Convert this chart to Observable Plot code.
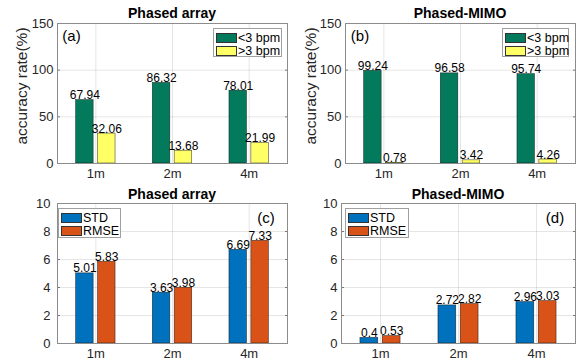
<!DOCTYPE html>
<html><head><meta charset="utf-8">
<script src="https://cdn.jsdelivr.net/npm/d3@7"></script>
<script src="https://cdn.jsdelivr.net/npm/@observablehq/plot@0.6"></script>
<style>
body{margin:0;background:#fff;}
#wrap{position:relative;width:582px;height:360px;font-family:"Liberation Sans",Arial,sans-serif;color:#262626;overflow:hidden;}
.panel{position:absolute;}
.t{position:absolute;white-space:nowrap;line-height:1;}
.title{font-weight:bold;font-size:14px;transform:translate(-50%,-50%);color:#000;}
.letter{font-size:15px;transform:translate(-50%,-50%);color:#000;}
.ylab{font-size:15.5px;transform:translate(-50%,-50%) rotate(-90deg);}
.legend{position:absolute;background:#fff;border:1px solid #a0a0a0;box-sizing:border-box;}
.row{position:absolute;left:2px;display:flex;align-items:center;font-size:12.5px;color:#000;height:12px;white-space:nowrap;width:max-content;}
.sw{width:21px;height:10px;border:1px solid #333;box-sizing:border-box;margin-right:1px;flex:none;}
</style></head><body><div id="wrap"></div><script>
// ---- data ----
const distances = ["1m", "2m", "4m"];
const accSeries = ["<3 bpm", ">3 bpm"];
const phasedAcc = [[67.94, 86.32, 78.01], [32.06, 13.68, 21.99]];
const mimoAcc = [[99.24, 96.58, 95.74], [0.78, 3.42, 4.26]];
const errSeries = ["STD", "RMSE"];
const phasedErr = [[5.01, 3.63, 6.69], [5.83, 3.98, 7.33]];
const mimoErr = [[0.4, 2.72, 2.96], [0.53, 2.82, 3.03]];
const accTicks = [0, 50, 100, 150];
const errTicks = [0, 2, 4, 6, 8, 10];
const titles = ["Phased array", "Phased-MIMO", "Phased array", "Phased-MIMO"];
const letters = ["(a)", "(b)", "(c)", "(d)"];
const accColors = ["#047a5d", "#ffff66"];
const errColors = ["#0072bd", "#d95319"];

const wrap = document.getElementById("wrap");
function addText(cls, txt, x, y) {
  const d = document.createElement("div");
  d.className = "t " + cls; d.textContent = txt;
  d.style.left = x + "px"; d.style.top = y + "px";
  wrap.appendChild(d);
}
function addLegend(series, colors, x, y, w, h, rowTop, rowStep) {
  const L = document.createElement("div");
  L.className = "legend";
  Object.assign(L.style, {left: x + "px", top: y + "px", width: w + "px", height: h + "px"});
  series.forEach((s, i) => {
    const r = document.createElement("div");
    r.className = "row"; r.style.top = (rowTop + i * rowStep) + "px";
    const sw = document.createElement("div"); sw.className = "sw"; sw.style.background = colors[i];
    const tx = document.createElement("span"); tx.textContent = s;
    r.appendChild(sw); r.appendChild(tx); L.appendChild(r);
  });
  wrap.appendChild(L);
}

// MATLAB grouped bar geometry (2 series)
const nS = 2;
const groupW = Math.min(0.8, nS / (nS + 1.5));
const slot = groupW / nS;
const barW = 0.8 * slot;

function panel(cfg) {
  const rows = [];
  cfg.series.forEach((s, si) => cfg.values[si].forEach((v, ci) => {
    const xc = ci + 1 - groupW / 2 + slot * (si + 0.5);
    rows.push({s, si, v, xc, x1: xc - barW / 2, x2: xc + barW / 2, label: String(v)});
  }));
  const p = Plot.plot({
    width: cfg.w, height: cfg.h,
    marginLeft: cfg.ml, marginRight: cfg.mr, marginTop: cfg.mt, marginBottom: cfg.mb,
    style: {fontFamily: '"Liberation Sans", Arial, sans-serif', fontSize: "13px", color: "#262626", background: "transparent", overflow: "visible"},
    x: {type: "linear", domain: [0.5, 3.5]},
    y: {domain: [0, cfg.yMax]},
    color: {domain: cfg.series, range: cfg.colors},
    marks: [
      Plot.gridY(cfg.ticks, {stroke: "#000", strokeOpacity: 0.1}),
      Plot.gridX([1, 2, 3], {stroke: "#000", strokeOpacity: 0.1}),
      Plot.rectY(rows, {x1: "x1", x2: "x2", y1: 0, y2: "v", fill: d => d.s, stroke: "#000", strokeWidth: 0.6, strokeOpacity: 0.7}),
      Plot.text(rows, {x: "xc", y: "v", text: "label", lineAnchor: "bottom", dy: -1, fontSize: 12, fill: "#000"}),
      Plot.axisY(cfg.ticks, {tickSize: 0, tickPadding: cfg.tickPad, fontSize: 13, label: null}),
      Plot.axisX([1, 2, 3], {tickSize: 0, tickPadding: 5, fontSize: 13, label: null, tickFormat: d => distances[d - 1]}),
      Plot.axisY(cfg.ticks, {anchor: "left", tickSize: -3, text: null, label: null, stroke: "#777"}),
      Plot.axisY(cfg.ticks, {anchor: "right", tickSize: -3, text: null, label: null, stroke: "#777"}),
      Plot.frame({stroke: "#8c8c8c"})
    ]
  });
  p.classList.add("panel");
  p.style.left = cfg.left + "px"; p.style.top = cfg.top + "px";
  wrap.appendChild(p);
}

panel({left: 0, top: 0, w: 291, h: 180, ml: 57, mr: 4, mt: 23, mb: 17, series: accSeries, values: phasedAcc, colors: accColors, yMax: 150, ticks: accTicks, tickPad: 4});
panel({left: 291, top: 0, w: 291, h: 180, ml: 54, mr: 7, mt: 23, mb: 17, series: accSeries, values: mimoAcc, colors: accColors, yMax: 150, ticks: accTicks, tickPad: 4});
panel({left: 0, top: 180, w: 291, h: 180, ml: 57, mr: 4, mt: 23, mb: 17, series: errSeries, values: phasedErr, colors: errColors, yMax: 10, ticks: errTicks, tickPad: 7});
panel({left: 291, top: 180, w: 291, h: 180, ml: 50, mr: 7, mt: 23, mb: 17, series: errSeries, values: mimoErr, colors: errColors, yMax: 10, ticks: errTicks, tickPad: 4});

addText("title", titles[0], 172, 13);
addText("title", titles[1], 460, 13);
addText("title", titles[2], 172, 194);
addText("title", titles[3], 458, 194);
addText("letter", letters[0], 71.5, 35);
addText("letter", letters[1], 360, 35);
addText("letter", letters[2], 266, 217);
addText("letter", letters[3], 555, 217);
addText("ylab", "accuracy rate(%)", 22, 86);
addText("ylab", "accuracy rate(%)", 311, 86);

addLegend(accSeries, accColors, 213, 28, 69, 29, 2.5, 13.5);
addLegend(accSeries, accColors, 502, 28, 67, 29, 2.5, 13.5);
addLegend(errSeries, errColors, 58, 208, 63, 30, 2.5, 13.5);
addLegend(errSeries, errColors, 345, 208, 64, 30, 2.5, 13.5);
</script></body></html>
